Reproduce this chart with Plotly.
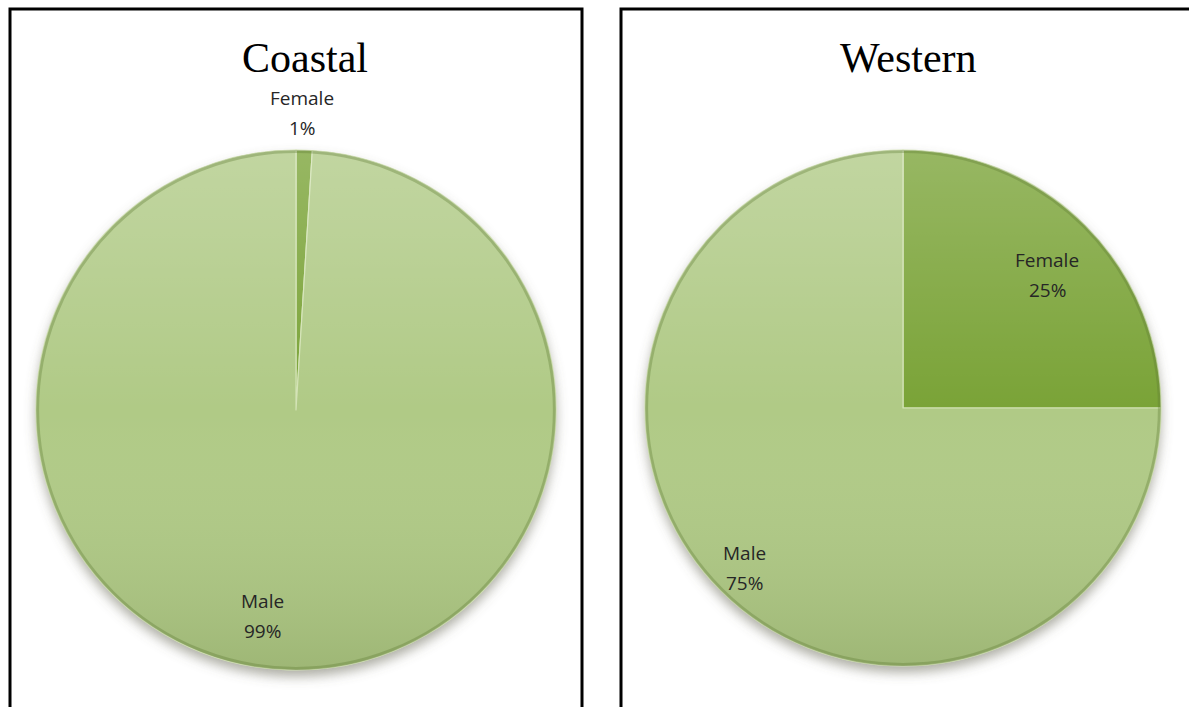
import base64
import plotly.graph_objects as go

# Gender split per region
regions = ["Coastal", "Western"]
genders = ["Female", "Male"]
coastal_pct = [1, 99]
western_pct = [25, 75]

W, H = 1189, 707

# Pie placement in pixels: centre x, centre y, radius
pie_geom = {
    "Coastal": (296, 410, 260),
    "Western": (903, 408, 258),
}
# Label positions (pixels, centre of the name line) for each slice label
label_pos = {
    "Coastal": {"Female": (302, 98), "Male": (262, 601)},
    "Western": {"Female": (1047, 260), "Male": (744, 553)},
}
LINE_GAP = 30
title_pos = {"Coastal": (305, 58), "Western": (908, 58)}

female_col = "#7aa337"
male_col = "#b0ca86"


def px(x):
    return x / W


def py(y):
    return 1 - y / H


def svg_uri(svg):
    return "data:image/svg+xml;base64," + base64.b64encode(svg.encode()).decode()


shade_svg = svg_uri(
    '<svg xmlns="http://www.w3.org/2000/svg" width="200" height="200" viewBox="0 0 200 200">'
    '<defs><linearGradient id="g" x1="0" y1="0" x2="0" y2="1">'
    '<stop offset="0" stop-color="#ffffff" stop-opacity="0.22"/>'
    '<stop offset="0.5" stop-color="#ffffff" stop-opacity="0.0"/>'
    '<stop offset="1" stop-color="#304010" stop-opacity="0.14"/>'
    '</linearGradient></defs>'
    '<circle cx="100" cy="100" r="100" fill="url(#g)"/>'
    '<circle cx="100" cy="100" r="99.4" fill="none" stroke="#5f7a35" stroke-opacity="0.35" stroke-width="1.2"/>'
    '</svg>'
)

shadow_svg = svg_uri(
    '<svg xmlns="http://www.w3.org/2000/svg" width="220" height="220" viewBox="0 0 220 220">'
    '<defs><filter id="b" x="-20%" y="-20%" width="140%" height="140%">'
    '<feGaussianBlur stdDeviation="2.2"/></filter></defs>'
    '<circle cx="110" cy="112.5" r="100" fill="#6a6a5a" fill-opacity="0.55" filter="url(#b)"/>'
    '</svg>'
)

label_font = dict(family="'Open Sans', Lato, sans-serif", size=19, color="#262626")

fig = go.Figure()
images = []
annotations = []
shapes = []

for name, vals in zip(regions, [coastal_pct, western_pct]):
    cx, cy, r = pie_geom[name]
    fig.add_trace(go.Pie(
        labels=genders,
        values=vals,
        sort=False,
        direction="clockwise",
        rotation=0,
        textinfo="none",
        hoverinfo="label+percent",
        marker=dict(colors=[female_col, male_col],
                    line=dict(color="#d3e3b5", width=1.2)),
        domain=dict(x=[px(cx - r), px(cx + r)], y=[py(cy + r), py(cy - r)]),
        showlegend=False,
    ))
    # soft shading over the disc and a drop shadow beneath it
    images.append(dict(source=shade_svg, xref="paper", yref="paper",
                       x=px(cx - r), y=py(cy - r), sizex=2 * r / W, sizey=2 * r / H,
                       sizing="stretch", layer="above", xanchor="left", yanchor="top"))
    rs = r * 1.1
    images.append(dict(source=shadow_svg, xref="paper", yref="paper",
                       x=px(cx - rs), y=py(cy - rs), sizex=2 * rs / W, sizey=2 * rs / H,
                       sizing="stretch", layer="below", xanchor="left", yanchor="top"))
    total = sum(vals)
    for g, v in zip(genders, vals):
        lx, ly = label_pos[name][g]
        for i, line in enumerate([g, f"{round(100 * v / total)}%"]):
            annotations.append(dict(
                text=line,
                x=px(lx), y=py(ly + i * LINE_GAP), xref="paper", yref="paper",
                showarrow=False, xanchor="center", yanchor="middle",
                font=label_font,
            ))
    tx, ty = title_pos[name]
    annotations.append(dict(
        text=name, x=px(tx), y=py(ty), xref="paper", yref="paper",
        showarrow=False, xanchor="center", yanchor="middle",
        font=dict(family="'Liberation Serif', 'DejaVu Serif', serif", size=42, color="#000000"),
    ))

# Panel frames (open at the bottom edge of the page)
shapes.append(dict(type="rect", xref="paper", yref="paper",
                   x0=px(10), x1=px(582), y0=-0.05, y1=py(9),
                   line=dict(color="#000000", width=3), layer="above"))
shapes.append(dict(type="rect", xref="paper", yref="paper",
                   x0=px(621), x1=1.05, y0=-0.05, y1=py(9),
                   line=dict(color="#000000", width=3), layer="above"))

fig.update_layout(
    width=W, height=H,
    margin=dict(l=0, r=0, t=0, b=0),
    paper_bgcolor="#ffffff",
    plot_bgcolor="#ffffff",
    images=images,
    annotations=annotations,
    shapes=shapes,
)

fig.write_html("out.html")
